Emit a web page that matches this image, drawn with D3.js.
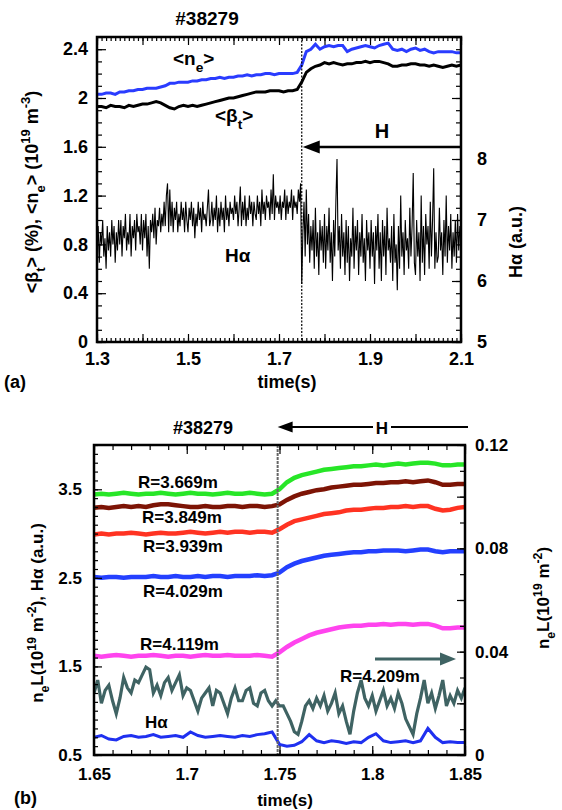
<!DOCTYPE html>
<html>
<head>
<meta charset="utf-8">
<script src="https://cdnjs.cloudflare.com/ajax/libs/d3/7.8.5/d3.min.js"></script>
<style>
  body { margin: 0; background: #fff; }
  svg { display: block; }
  text { font-family: "Liberation Sans", Arial, sans-serif; font-weight: bold; fill: #000; }
</style>
</head>
<body>
<svg id="chart" width="562" height="810"></svg>
<script>
/* ---------- data : panel (a) ---------- */
const shotLabel = "#38279";
const timeA0 = 1.30, stepA = 0.01;
// <n_e> (1e19 m^-3)
const neA = [2.03,2.03,2.04,2.04,2.03,2.05,2.05,2.06,2.06,2.07,
  2.07,2.08,2.08,2.08,2.09,2.10,2.12,2.12,2.13,2.13,
  2.13,2.14,2.14,2.15,2.15,2.16,2.16,2.17,2.16,2.17,
  2.17,2.18,2.18,2.19,2.18,2.19,2.19,2.20,2.20,2.19,
  2.20,2.20,2.20,2.20,2.21,2.27,2.38,2.40,2.44,2.40,
  2.42,2.43,2.42,2.43,2.43,2.38,2.40,2.41,2.42,2.43,
  2.42,2.41,2.43,2.44,2.45,2.40,2.39,2.40,2.38,2.40,
  2.41,2.39,2.40,2.38,2.37,2.38,2.38,2.38,2.38,2.37,2.37];
// <beta_t> (%)
const betaA = [1.93,1.93,1.92,1.94,1.93,1.93,1.92,1.94,1.93,1.94,
  1.95,1.95,1.96,1.97,1.96,1.94,1.92,1.91,1.93,1.94,
  1.93,1.94,1.93,1.94,1.95,1.96,1.97,1.98,1.99,2.00,
  2.00,2.01,2.02,2.03,2.04,2.05,2.05,2.05,2.06,2.06,
  2.06,2.05,2.06,2.06,2.07,2.13,2.21,2.24,2.26,2.27,
  2.29,2.28,2.29,2.28,2.27,2.28,2.28,2.29,2.29,2.30,
  2.29,2.30,2.30,2.29,2.28,2.26,2.26,2.27,2.27,2.28,
  2.28,2.27,2.27,2.26,2.27,2.26,2.25,2.26,2.27,2.26,2.27];
// H-alpha (a.u.), right axis, one value every 2.5 ms
const haA0 = 1.30, stepHaA = 0.0025;
const halphaA = [
  6.5,6.9,6.3,6.8,6.6,7.0,6.4,6.7,6.2,6.9,6.5,6.8,6.4,7.0,6.6,6.9,6.3,6.8,6.5,7.0,
  6.6,7.0,6.4,6.9,6.7,7.1,6.5,6.8,6.6,7.1,6.4,6.9,6.7,7.0,6.5,7.1,6.8,6.9,6.6,7.1,
  6.5,7.0,6.7,7.1,6.4,6.9,6.2,7.0,6.8,7.1,6.7,7.2,6.6,7.0,6.9,7.2,6.8,7.1,6.9,7.3,
  6.9,7.4,7.6,6.8,7.5,6.9,7.3,6.8,7.2,7.0,7.3,6.8,7.1,6.9,7.3,7.0,7.2,6.8,7.3,7.0,
  6.8,7.2,7.0,7.3,6.9,7.2,6.7,7.1,6.9,7.3,7.0,7.2,6.8,7.3,7.0,7.1,6.9,7.2,7.5,6.9,
  7.0,7.3,6.9,7.2,7.0,7.4,6.8,7.2,6.9,7.3,7.0,7.2,6.8,7.4,7.0,7.2,6.9,7.3,7.1,7.2,
  7.0,7.4,7.1,7.3,6.9,7.2,7.55,6.9,7.3,7.0,7.4,6.9,7.2,7.0,7.4,7.1,7.3,6.9,7.3,7.1,
  7.0,7.4,7.1,7.3,6.9,7.5,7.1,7.3,7.0,7.4,7.2,7.3,7.0,7.5,7.1,7.75,7.0,7.4,7.2,7.3,
  7.1,7.4,7.0,7.3,7.2,7.5,7.0,7.4,7.1,7.3,7.2,7.5,7.0,7.4,7.2,7.3,7.1,7.5,7.3,7.6,
  5.95,6.8,7.3,6.4,7.5,6.6,7.1,6.3,6.9,6.5,7.0,6.2,7.2,6.4,6.8,6.1,7.0,6.5,6.9,6.3,
  7.1,6.2,6.9,6.5,7.2,6.3,6.8,6.0,7.0,6.4,7.3,8.0,6.5,6.9,6.2,7.1,6.4,6.8,6.1,7.0,
  6.3,6.9,6.0,6.7,6.4,7.2,6.2,6.9,6.5,7.0,6.1,6.8,6.4,7.1,6.3,6.7,6.0,7.0,6.5,6.8,
  6.2,7.0,6.4,6.8,5.95,6.9,6.5,7.1,6.2,6.8,6.0,7.0,6.4,6.9,6.1,7.2,6.5,6.7,6.3,6.9,
  6.0,7.1,6.3,6.6,5.85,6.9,6.2,7.4,6.4,6.8,6.1,7.0,6.5,6.7,6.2,7.2,6.4,6.9,7.77,6.3,
  6.1,7.0,6.4,6.8,6.0,7.4,6.3,6.9,6.1,7.1,6.6,6.9,6.2,7.3,6.4,7.0,7.85,6.2,6.8,6.3,
  6.4,7.2,6.5,6.8,6.1,7.0,6.4,7.4,6.3,6.9,6.5,7.1,6.2,6.8,6.4,7.0,6.3,7.1,6.5,6.9,
  6.7];
const transitionA = 1.75;
const xTicksA = [1.3, 1.5, 1.7, 1.9, 2.1];
const yTicksA = [0, 0.4, 0.8, 1.2, 1.6, 2.0, 2.4];
const yTicksHaA = [5, 6, 7, 8];

/* ---------- data : panel (b) ---------- */
const timeB0 = 1.65, stepB = 0.004;
const chordNames = ["R=3.669m", "R=3.849m", "R=3.939m", "R=4.029m", "R=4.119m"];
const chord3669 = [3.44,3.45,3.44,3.45,3.46,3.45,3.44,3.45,3.45,3.46,3.45,3.44,3.45,3.46,3.45,3.45,3.44,3.45,3.46,3.45,3.45,3.46,3.45,3.44,3.45,
  3.50,3.58,3.63,3.66,3.68,3.70,3.72,3.73,3.74,3.75,3.76,3.76,3.77,3.78,3.77,3.78,3.79,3.78,3.79,3.80,3.80,3.79,3.77,3.77,3.78,3.78];
const chord3849 = [3.29,3.30,3.29,3.30,3.31,3.30,3.31,3.30,3.32,3.33,3.33,3.32,3.31,3.30,3.30,3.31,3.30,3.30,3.31,3.31,3.30,3.31,3.31,3.30,3.31,
  3.33,3.38,3.42,3.45,3.47,3.49,3.50,3.52,3.53,3.54,3.55,3.55,3.56,3.57,3.57,3.58,3.58,3.59,3.58,3.59,3.60,3.58,3.55,3.55,3.56,3.56];
const chord3939 = [2.99,3.00,2.99,3.00,3.00,3.01,3.00,2.99,3.00,3.01,3.00,3.00,3.01,3.02,3.01,3.00,3.01,3.02,3.01,3.02,3.02,3.01,3.02,3.02,3.01,
  3.05,3.10,3.14,3.16,3.18,3.20,3.22,3.23,3.24,3.26,3.27,3.27,3.28,3.29,3.29,3.30,3.30,3.31,3.30,3.31,3.31,3.28,3.26,3.27,3.29,3.30];
const chord4029 = [2.51,2.50,2.51,2.51,2.50,2.51,2.51,2.51,2.52,2.51,2.51,2.52,2.51,2.51,2.52,2.51,2.52,2.52,2.51,2.52,2.52,2.52,2.53,2.52,2.53,
  2.56,2.62,2.66,2.69,2.71,2.73,2.75,2.76,2.77,2.78,2.79,2.79,2.80,2.80,2.81,2.81,2.81,2.80,2.81,2.82,2.82,2.80,2.79,2.80,2.80,2.80];
const chord4119 = [1.62,1.61,1.62,1.63,1.62,1.61,1.62,1.62,1.63,1.62,1.61,1.62,1.62,1.61,1.62,1.63,1.62,1.62,1.63,1.62,1.62,1.62,1.63,1.62,1.61,
  1.66,1.72,1.77,1.81,1.85,1.88,1.90,1.92,1.94,1.95,1.96,1.96,1.97,1.97,1.98,1.97,1.98,1.98,1.97,1.98,1.98,1.96,1.93,1.93,1.94,1.94];
// H-alpha (a.u.), left axis
const halphaB = [0.70,0.72,0.68,0.67,0.71,0.72,0.70,0.71,0.73,0.70,0.71,0.72,0.70,0.76,0.72,0.70,0.71,0.72,0.71,0.70,0.72,0.71,0.73,0.74,0.76,
  0.62,0.60,0.61,0.65,0.73,0.66,0.64,0.66,0.65,0.63,0.65,0.64,0.70,0.74,0.66,0.64,0.65,0.66,0.64,0.66,0.80,0.70,0.64,0.65,0.64,0.64];
// R=4.209m chord (1e19 m^-2), right axis
const edgeName = "R=4.209m";
const edgeT0 = 1.65, edgeStep = 0.002;
const chord4209 = [0.024,0.029,0.020,0.025,0.027,0.021,0.016,0.022,0.030,0.026,
  0.024,0.029,0.028,0.031,0.034,0.033,0.024,0.027,0.023,0.028,
  0.030,0.025,0.028,0.031,0.023,0.026,0.025,0.021,0.017,0.022,
  0.024,0.026,0.019,0.025,0.024,0.020,0.016,0.022,0.026,0.021,
  0.021,0.025,0.026,0.020,0.019,0.024,0.025,0.021,0.019,0.021,
  0.019,
  0.019,0.016,0.013,0.009,0.008,0.013,0.019,0.021,0.018,0.022,
  0.019,0.023,0.017,0.020,0.024,0.016,0.019,0.013,0.008,0.017,
  0.024,0.029,0.022,0.019,0.023,0.017,0.021,0.025,0.019,0.022,
  0.018,0.024,0.020,0.014,0.011,0.008,0.016,0.022,0.029,0.020,
  0.024,0.018,0.023,0.029,0.019,0.023,0.020,0.025,0.022,0.026];
const transitionB = 1.749;
const xTicksB = [1.65, 1.7, 1.75, 1.8, 1.85];
const yTicksB = [0.5, 1.5, 2.5, 3.5];
const yTicksRB = [0, 0.04, 0.08, 0.12];

/* ---------- styles ---------- */
const chordColors = ["#27e627", "#7d1405", "#ff3322", "#2440ff", "#ff44ee"];
const edgeColor = "#3f6363";
const haColorB = "#1f30f0";
const neColor = "#2a3cff";

const svg = d3.select("#chart");
const fmt = d => String(+d.toFixed(3));

function series(t0, step, values) {
  return values.map((v, i) => ({ t: t0 + i * step, v: v }));
}

function tickRange(a, b, step) {
  const n = Math.round((b - a) / step);
  return d3.range(n + 1).map(i => +(a + i * step).toFixed(4));
}

// one axis call, ticks pointing into the frame
function addAxis(g, axisFn, scale, values, size, pad, fontSize, labels, transform) {
  const axis = axisFn(scale).tickValues(values).tickSize(-size).tickPadding(pad)
    .tickFormat(d => labels && labels.some(l => Math.abs(l - d) < 1e-6) ? fmt(d) : "");
  const sel = g.append("g").attr("transform", transform).call(axis)
    .attr("font-family", null).attr("font-size", fontSize);
  sel.select(".domain").remove();
  sel.selectAll("line").attr("stroke", "#000").attr("stroke-width", 1.2);
  return sel;
}

function richText(g, x, y, parts, size, rotate, anchor) {
  const t = g.append("text")
    .attr("transform", "translate(" + x + "," + y + ")" + (rotate ? " rotate(-90)" : ""))
    .attr("text-anchor", anchor || "middle")
    .attr("font-size", size);
  let shift = 0;
  parts.forEach(p => {
    let target = 0, fs = size;
    if (p[1] === "sub") { target = size * 0.38; fs = size * 0.72; }
    if (p[1] === "sup") { target = -size * 0.42; fs = size * 0.72; }
    t.append("tspan").attr("dy", target - shift).attr("font-size", fs).text(p[0]);
    shift = target;
  });
  return t;
}

function arrowHead(g, tipX, y, dir, len, half, color) {
  g.append("path")
    .attr("d", "M" + tipX + "," + y + "L" + (tipX - dir * len) + "," + (y - half) + "L" + (tipX - dir * len) + "," + (y + half) + "Z")
    .attr("fill", color);
}

/* ================= panel (a) ================= */
function drawPanelA() {
  const f = { left: 97, top: 37, right: 461, bottom: 342 };
  const x = d3.scaleLinear().domain([1.3, 2.1]).range([f.left, f.right]);
  const y = d3.scaleLinear().domain([0, 2.5]).range([f.bottom, f.top]);
  const yHa = d3.scaleLinear().domain([5, 10]).range([f.bottom, f.top]);
  const g = svg.append("g").attr("class", "panelA");

  g.append("defs").append("clipPath").attr("id", "clipA")
    .append("rect").attr("x", f.left).attr("y", f.top)
    .attr("width", f.right - f.left).attr("height", f.bottom - f.top);

  const plot = g.append("g").attr("clip-path", "url(#clipA)");

  plot.append("path").datum(series(haA0, stepHaA, halphaA))
    .attr("d", d3.line().x(d => x(d.t)).y(d => yHa(d.v)))
    .attr("fill", "none").attr("stroke", "#000").attr("stroke-width", 1.1);

  plot.append("path").datum(series(timeA0, stepA, betaA))
    .attr("d", d3.line().x(d => x(d.t)).y(d => y(d.v)))
    .attr("fill", "none").attr("stroke", "#000").attr("stroke-width", 3);

  plot.append("path").datum(series(timeA0, stepA, neA))
    .attr("d", d3.line().x(d => x(d.t)).y(d => y(d.v)))
    .attr("fill", "none").attr("stroke", neColor).attr("stroke-width", 3);

  // L-H transition marker
  g.append("line").attr("x1", x(transitionA)).attr("x2", x(transitionA))
    .attr("y1", f.top).attr("y2", f.bottom)
    .attr("stroke", "#000").attr("stroke-width", 1.2).attr("stroke-dasharray", "2,1.5");

  // H-mode arrow
  const ay = 147;
  g.append("line").attr("x1", f.right).attr("x2", x(transitionA) + 14)
    .attr("y1", ay).attr("y2", ay).attr("stroke", "#000").attr("stroke-width", 2.5);
  arrowHead(g, x(transitionA) + 1, ay, -1, 17, 6.5, "#000");
  g.append("text").attr("x", 382).attr("y", 138).attr("text-anchor", "middle")
    .attr("font-size", 20).text("H");

  // axes
  addAxis(g, d3.axisBottom, x, tickRange(1.3, 2.1, 0.01), 4, 10, 18, null, "translate(0," + f.bottom + ")");
  addAxis(g, d3.axisBottom, x, tickRange(1.3, 2.1, 0.1), 8, 10, 18, xTicksA, "translate(0," + f.bottom + ")");
  addAxis(g, d3.axisTop, x, tickRange(1.3, 2.1, 0.01), 4, 4, 18, null, "translate(0," + f.top + ")");
  addAxis(g, d3.axisTop, x, tickRange(1.3, 2.1, 0.1), 8, 4, 18, null, "translate(0," + f.top + ")");
  addAxis(g, d3.axisLeft, y, tickRange(0, 2.5, 0.1), 5, 9, 18, null, "translate(" + f.left + ",0)");
  addAxis(g, d3.axisLeft, y, yTicksA, 9, 9, 18, yTicksA, "translate(" + f.left + ",0)");
  addAxis(g, d3.axisRight, yHa, tickRange(5, 10, 0.2), 5, 16, 18, null, "translate(" + f.right + ",0)");
  addAxis(g, d3.axisRight, yHa, tickRange(5, 10, 1), 9, 16, 18, yTicksHaA, "translate(" + f.right + ",0)");

  g.append("rect").attr("x", f.left).attr("y", f.top)
    .attr("width", f.right - f.left).attr("height", f.bottom - f.top)
    .attr("fill", "none").attr("stroke", "#000").attr("stroke-width", 2.5);

  // texts
  g.append("text").attr("x", 207).attr("y", 25).attr("text-anchor", "middle")
    .attr("font-size", 19).text(shotLabel);
  richText(g, 173, 65, [["<n", null], ["e", "sub"], [">", null]], 19, false, "start");
  richText(g, 215, 122, [["<β", null], ["t", "sub"], [">", null]], 19, false, "start");
  g.append("text").attr("x", 225).attr("y", 262).attr("font-size", 19).text("Hα");

  richText(g, 38, 192, [["<β", null], ["t", "sub"], ["> (%), <n", null], ["e", "sub"],
    ["> (10", null], ["19", "sup"], [" m", null], ["-3", "sup"], [")", null]], 18, true);
  richText(g, 522, 242, [["Hα (a.u.)", null]], 18, true);

  g.append("text").attr("x", 287).attr("y", 388).attr("text-anchor", "middle")
    .attr("font-size", 18).text("time(s)");
  g.append("text").attr("x", 4).attr("y", 388).attr("font-size", 18)
    .attr("font-weight", "normal").text("(a)");
}

/* ================= panel (b) ================= */
function drawPanelB() {
  const f = { left: 94, top: 445, right: 465, bottom: 755 };
  const x = d3.scaleLinear().domain([1.65, 1.85]).range([f.left, f.right]);
  const y = d3.scaleLinear().domain([0.5, 4.0]).range([f.bottom, f.top]);
  const yR = d3.scaleLinear().domain([0, 0.12]).range([f.bottom, f.top]);
  const g = svg.append("g").attr("class", "panelB");

  g.append("defs").append("clipPath").attr("id", "clipB")
    .append("rect").attr("x", f.left).attr("y", f.top)
    .attr("width", f.right - f.left).attr("height", f.bottom - f.top);
  const plot = g.append("g").attr("clip-path", "url(#clipB)");
  const lineL = d3.line().x(d => x(d.t)).y(d => y(d.v));

  const chords = [chord3669, chord3849, chord3939, chord4029, chord4119];
  chords.forEach((c, i) => {
    plot.append("path").datum(series(timeB0, stepB, c))
      .attr("d", lineL).attr("fill", "none")
      .attr("stroke", chordColors[i]).attr("stroke-width", 4.5);
  });

  plot.append("path").datum(series(edgeT0, edgeStep, chord4209))
    .attr("d", d3.line().x(d => x(d.t)).y(d => yR(d.v)))
    .attr("fill", "none").attr("stroke", edgeColor).attr("stroke-width", 3.2);

  plot.append("path").datum(series(timeB0, stepB, halphaB))
    .attr("d", lineL).attr("fill", "none")
    .attr("stroke", haColorB).attr("stroke-width", 3);

  g.append("line").attr("x1", x(transitionB)).attr("x2", x(transitionB))
    .attr("y1", f.top).attr("y2", f.bottom)
    .attr("stroke", "#666").attr("stroke-width", 2).attr("stroke-dasharray", "3,1");

  // axes
  addAxis(g, d3.axisBottom, x, tickRange(1.65, 1.85, 0.01), 5, 13, 17, null, "translate(0," + f.bottom + ")");
  addAxis(g, d3.axisBottom, x, xTicksB, 9, 13, 17, xTicksB, "translate(0," + f.bottom + ")");
  addAxis(g, d3.axisTop, x, tickRange(1.65, 1.85, 0.01), 5, 4, 17, null, "translate(0," + f.top + ")");
  addAxis(g, d3.axisTop, x, xTicksB, 9, 4, 17, null, "translate(0," + f.top + ")");
  addAxis(g, d3.axisLeft, y, tickRange(0.5, 4.0, 0.1), 4, 12, 17, null, "translate(" + f.left + ",0)");
  addAxis(g, d3.axisLeft, y, yTicksB, 8, 12, 17, yTicksB, "translate(" + f.left + ",0)");
  addAxis(g, d3.axisRight, yR, tickRange(0, 0.12, 0.01), 5, 10, 17, null, "translate(" + f.right + ",0)");
  addAxis(g, d3.axisRight, yR, tickRange(0, 0.12, 0.02), 8, 10, 17, yTicksRB, "translate(" + f.right + ",0)");

  g.append("rect").attr("x", f.left).attr("y", f.top)
    .attr("width", f.right - f.left).attr("height", f.bottom - f.top)
    .attr("fill", "none").attr("stroke", "#000").attr("stroke-width", 2.5);

  // H-mode arrow above the frame
  const ay = 427;
  g.append("line").attr("x1", 468).attr("x2", x(transitionB) + 12)
    .attr("y1", ay).attr("y2", ay).attr("stroke", "#000").attr("stroke-width", 2);
  arrowHead(g, x(transitionB), ay, -1, 15, 5.5, "#000");
  g.append("rect").attr("x", 373).attr("y", 418).attr("width", 18).attr("height", 18).attr("fill", "#fff");
  g.append("text").attr("x", 382).attr("y", 434).attr("text-anchor", "middle")
    .attr("font-size", 17).text("H");
  g.append("text").attr("x", 203).attr("y", 434).attr("text-anchor", "middle")
    .attr("font-size", 18).text(shotLabel);

  // chord labels
  const labelPos = [[138, 488], [142, 523], [143, 552], [143, 597], [140, 650]];
  chordNames.forEach((n, i) => {
    g.append("text").attr("x", labelPos[i][0]).attr("y", labelPos[i][1])
      .attr("font-size", 17).text(n);
  });
  g.append("text").attr("x", 145).attr("y", 728).attr("font-size", 17).text("Hα");
  g.append("text").attr("x", 340).attr("y", 682).attr("font-size", 17).text(edgeName);

  // arrow to the right axis for the edge chord
  g.append("line").attr("x1", 375).attr("x2", 442).attr("y1", 659).attr("y2", 659)
    .attr("stroke", edgeColor).attr("stroke-width", 3);
  arrowHead(g, 456, 659, 1, 16, 6.5, edgeColor);

  richText(g, 43, 613, [["n", null], ["e", "sub"], ["L(10", null], ["19", "sup"], [" m", null],
    ["-2", "sup"], ["), Hα (a.u.)", null]], 17, true);
  richText(g, 549, 598, [["n", null], ["e", "sub"], ["L(10", null], ["19", "sup"], [" m", null],
    ["-2", "sup"], [")", null]], 17, true);

  g.append("text").attr("x", 285).attr("y", 806).attr("text-anchor", "middle")
    .attr("font-size", 17).text("time(s)");
  g.append("text").attr("x", 14).attr("y", 804).attr("font-size", 18)
    .attr("font-weight", "normal").text("(b)");
}

drawPanelA();
drawPanelB();
</script>
</body>
</html>
